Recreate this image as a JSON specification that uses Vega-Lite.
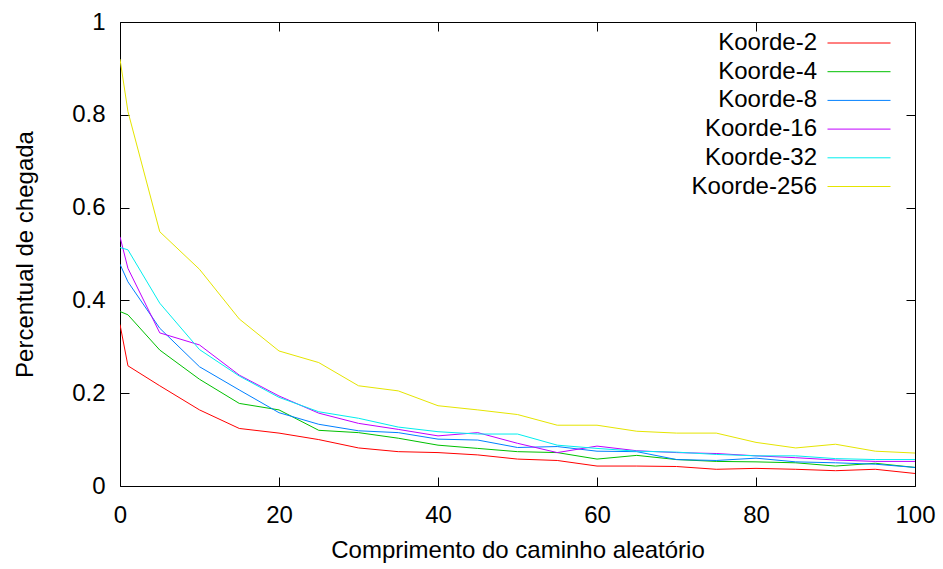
{
  "$schema": "https://vega.github.io/schema/vega-lite/v6.json",
  "autosize": "none",
  "width": 795,
  "height": 464,
  "padding": {"left": 120, "top": 22, "right": 28, "bottom": 83},
  "background": "white",
  "config": {
    "view": {"stroke": "#000", "strokeWidth": 1},
    "font": "Liberation Sans",
    "axis": {"grid": false, "domain": false, "labelFont": "Liberation Sans", "titleFont": "Liberation Sans", "labelFontSize": 24, "titleFontSize": 24, "titleFontWeight": "normal", "labelColor": "#000", "titleColor": "#000", "tickColor": "#000", "tickSize": -9, "tickWidth": 1}
  },
  "data": {"values": [
    {"x":0,"s":"Koorde-2","y":0.348},{"x":1,"s":"Koorde-2","y":0.259},{"x":5,"s":"Koorde-2","y":0.216},{"x":10,"s":"Koorde-2","y":0.164},{"x":15,"s":"Koorde-2","y":0.124},{"x":20,"s":"Koorde-2","y":0.114},{"x":25,"s":"Koorde-2","y":0.100},{"x":30,"s":"Koorde-2","y":0.082},{"x":35,"s":"Koorde-2","y":0.074},{"x":40,"s":"Koorde-2","y":0.072},{"x":45,"s":"Koorde-2","y":0.067},{"x":50,"s":"Koorde-2","y":0.058},{"x":55,"s":"Koorde-2","y":0.055},{"x":60,"s":"Koorde-2","y":0.043},{"x":65,"s":"Koorde-2","y":0.043},{"x":70,"s":"Koorde-2","y":0.042},{"x":75,"s":"Koorde-2","y":0.036},{"x":80,"s":"Koorde-2","y":0.038},{"x":85,"s":"Koorde-2","y":0.036},{"x":90,"s":"Koorde-2","y":0.033},{"x":95,"s":"Koorde-2","y":0.036},{"x":100,"s":"Koorde-2","y":0.027},
    {"x":0,"s":"Koorde-4","y":0.376},{"x":1,"s":"Koorde-4","y":0.369},{"x":5,"s":"Koorde-4","y":0.293},{"x":10,"s":"Koorde-4","y":0.230},{"x":15,"s":"Koorde-4","y":0.178},{"x":20,"s":"Koorde-4","y":0.164},{"x":25,"s":"Koorde-4","y":0.120},{"x":30,"s":"Koorde-4","y":0.115},{"x":35,"s":"Koorde-4","y":0.103},{"x":40,"s":"Koorde-4","y":0.088},{"x":45,"s":"Koorde-4","y":0.081},{"x":50,"s":"Koorde-4","y":0.074},{"x":55,"s":"Koorde-4","y":0.072},{"x":60,"s":"Koorde-4","y":0.058},{"x":65,"s":"Koorde-4","y":0.066},{"x":70,"s":"Koorde-4","y":0.057},{"x":75,"s":"Koorde-4","y":0.053},{"x":80,"s":"Koorde-4","y":0.052},{"x":85,"s":"Koorde-4","y":0.050},{"x":90,"s":"Koorde-4","y":0.043},{"x":95,"s":"Koorde-4","y":0.049},{"x":100,"s":"Koorde-4","y":0.040},
    {"x":0,"s":"Koorde-8","y":0.478},{"x":1,"s":"Koorde-8","y":0.440},{"x":5,"s":"Koorde-8","y":0.340},{"x":10,"s":"Koorde-8","y":0.257},{"x":15,"s":"Koorde-8","y":0.207},{"x":20,"s":"Koorde-8","y":0.158},{"x":25,"s":"Koorde-8","y":0.133},{"x":30,"s":"Koorde-8","y":0.119},{"x":35,"s":"Koorde-8","y":0.115},{"x":40,"s":"Koorde-8","y":0.101},{"x":45,"s":"Koorde-8","y":0.099},{"x":50,"s":"Koorde-8","y":0.083},{"x":55,"s":"Koorde-8","y":0.085},{"x":60,"s":"Koorde-8","y":0.075},{"x":65,"s":"Koorde-8","y":0.074},{"x":70,"s":"Koorde-8","y":0.057},{"x":75,"s":"Koorde-8","y":0.055},{"x":80,"s":"Koorde-8","y":0.060},{"x":85,"s":"Koorde-8","y":0.052},{"x":90,"s":"Koorde-8","y":0.050},{"x":95,"s":"Koorde-8","y":0.047},{"x":100,"s":"Koorde-8","y":0.040},
    {"x":0,"s":"Koorde-16","y":0.537},{"x":1,"s":"Koorde-16","y":0.469},{"x":5,"s":"Koorde-16","y":0.330},{"x":10,"s":"Koorde-16","y":0.304},{"x":15,"s":"Koorde-16","y":0.239},{"x":20,"s":"Koorde-16","y":0.194},{"x":25,"s":"Koorde-16","y":0.157},{"x":30,"s":"Koorde-16","y":0.135},{"x":35,"s":"Koorde-16","y":0.122},{"x":40,"s":"Koorde-16","y":0.108},{"x":45,"s":"Koorde-16","y":0.115},{"x":50,"s":"Koorde-16","y":0.092},{"x":55,"s":"Koorde-16","y":0.072},{"x":60,"s":"Koorde-16","y":0.086},{"x":65,"s":"Koorde-16","y":0.076},{"x":70,"s":"Koorde-16","y":0.072},{"x":75,"s":"Koorde-16","y":0.070},{"x":80,"s":"Koorde-16","y":0.065},{"x":85,"s":"Koorde-16","y":0.061},{"x":90,"s":"Koorde-16","y":0.056},{"x":95,"s":"Koorde-16","y":0.053},{"x":100,"s":"Koorde-16","y":0.053},
    {"x":0,"s":"Koorde-32","y":0.514},{"x":1,"s":"Koorde-32","y":0.509},{"x":5,"s":"Koorde-32","y":0.394},{"x":10,"s":"Koorde-32","y":0.294},{"x":15,"s":"Koorde-32","y":0.237},{"x":20,"s":"Koorde-32","y":0.191},{"x":25,"s":"Koorde-32","y":0.160},{"x":30,"s":"Koorde-32","y":0.146},{"x":35,"s":"Koorde-32","y":0.127},{"x":40,"s":"Koorde-32","y":0.117},{"x":45,"s":"Koorde-32","y":0.112},{"x":50,"s":"Koorde-32","y":0.112},{"x":55,"s":"Koorde-32","y":0.088},{"x":60,"s":"Koorde-32","y":0.081},{"x":65,"s":"Koorde-32","y":0.075},{"x":70,"s":"Koorde-32","y":0.073},{"x":75,"s":"Koorde-32","y":0.068},{"x":80,"s":"Koorde-32","y":0.065},{"x":85,"s":"Koorde-32","y":0.065},{"x":90,"s":"Koorde-32","y":0.059},{"x":95,"s":"Koorde-32","y":0.057},{"x":100,"s":"Koorde-32","y":0.057},
    {"x":0,"s":"Koorde-256","y":0.920},{"x":1,"s":"Koorde-256","y":0.807},{"x":5,"s":"Koorde-256","y":0.548},{"x":10,"s":"Koorde-256","y":0.467},{"x":15,"s":"Koorde-256","y":0.360},{"x":20,"s":"Koorde-256","y":0.291},{"x":25,"s":"Koorde-256","y":0.266},{"x":30,"s":"Koorde-256","y":0.216},{"x":35,"s":"Koorde-256","y":0.205},{"x":40,"s":"Koorde-256","y":0.173},{"x":45,"s":"Koorde-256","y":0.164},{"x":50,"s":"Koorde-256","y":0.154},{"x":55,"s":"Koorde-256","y":0.131},{"x":60,"s":"Koorde-256","y":0.131},{"x":65,"s":"Koorde-256","y":0.118},{"x":70,"s":"Koorde-256","y":0.114},{"x":75,"s":"Koorde-256","y":0.114},{"x":80,"s":"Koorde-256","y":0.094},{"x":85,"s":"Koorde-256","y":0.082},{"x":90,"s":"Koorde-256","y":0.090},{"x":95,"s":"Koorde-256","y":0.075},{"x":100,"s":"Koorde-256","y":0.071}
  ]},
  "layer": [
    {
      "mark": {"type": "line", "strokeWidth": 1, "clip": true},
      "encoding": {
        "x": {"field": "x", "type": "quantitative", "scale": {"domain": [0, 100], "nice": false, "zero": false}, "axis": {"values": [0, 20, 40, 60, 80, 100], "title": "Comprimento do caminho aleatório", "labelPadding": 26, "titlePadding": 11, "labelFlush": false}},
        "y": {"field": "y", "type": "quantitative", "scale": {"domain": [0, 1], "nice": false}, "axis": {"values": [0, 0.2, 0.4, 0.6, 0.8, 1], "format": "~g", "title": "Percentual de chegada", "labelPadding": 24, "titlePadding": 34, "labelFlush": false}},
        "color": {"field": "s", "type": "nominal", "sort": ["Koorde-2", "Koorde-4", "Koorde-8", "Koorde-16", "Koorde-32", "Koorde-256"],
          "scale": {"domain": ["Koorde-2", "Koorde-4", "Koorde-8", "Koorde-16", "Koorde-32", "Koorde-256"], "range": ["#ff0000", "#00c000", "#0080ff", "#c000ff", "#00eeee", "#e5e500"]},
          "legend": {"title": null, "orient": "none", "legendX": 727, "legendY": 9, "symbolType": "M-3,0H3", "symbolSize": 441, "symbolStrokeWidth": 1, "labelAlign": "right", "labelOffset": -54, "labelFontSize": 24, "labelFont": "Liberation Sans", "labelColor": "#000", "rowPadding": 4.7, "padding": 0, "labelLimit": 300}}
      }
    },
    {
      "mark": {"type": "line", "opacity": 0},
      "encoding": {
        "x": {"field": "x", "type": "quantitative", "axis": {"orient": "top", "values": [0, 20, 40, 60, 80, 100], "labels": false, "title": null}},
        "y": {"field": "y", "type": "quantitative", "axis": {"orient": "right", "values": [0, 0.2, 0.4, 0.6, 0.8, 1], "labels": false, "title": null}}
      }
    }
  ],
  "resolve": {"axis": {"x": "independent", "y": "independent"}}
}
